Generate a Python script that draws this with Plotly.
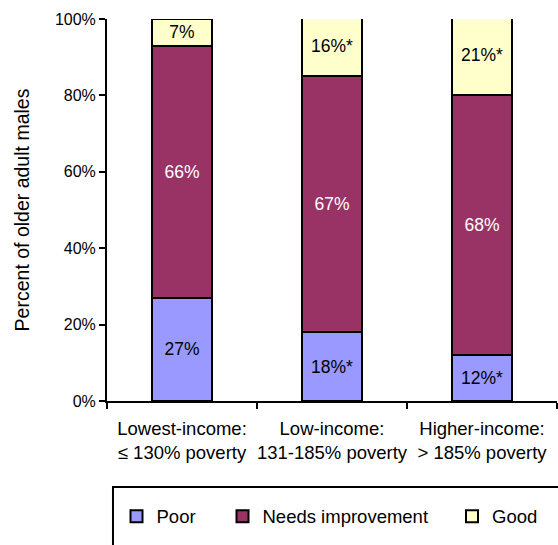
import plotly.graph_objects as go

# Income groups (two-line axis labels)
categories = [
    "Lowest-income:<br>\u2264 130% poverty",
    "Low-income:<br>131-185% poverty",
    "Higher-income:<br>> 185% poverty",
]

# Diet quality shares, percent of older adult males
poor = [27, 18, 12]
needs_improvement = [66, 67, 68]
good = [7, 16, 21]

# Significance markers shown next to the values
poor_marks = ["", "*", "*"]
needs_marks = ["", "", ""]
good_marks = ["", "*", "*"]

# Y-axis ticks
y_ticks = [0, 20, 40, 60, 80, 100]
y_tick_labels = [f"{t}%" for t in y_ticks]

series = [
    ("Poor", poor, poor_marks, "#9999FF", "black", "legend"),
    ("Needs improvement", needs_improvement, needs_marks, "#993366", "white", "legend2"),
    ("Good", good, good_marks, "#FFFFCC", "black", "legend3"),
]

FONT = "Liberation Sans, Arial, sans-serif"

fig = go.Figure()
for name, vals, marks, color, tcolor, leg in series:
    fig.add_trace(go.Bar(
        name=name,
        x=categories,
        y=vals,
        text=[f"{v}%{m}" for v, m in zip(vals, marks)],
        textposition="inside",
        insidetextanchor="middle",
        textangle=0,
        constraintext="none",
        textfont=dict(family=FONT, size=17.5, color=tcolor),
        marker=dict(color=color, line=dict(color="black", width=2)),
        width=0.4,
        legend=leg,
        hoverinfo="skip",
    ))

legend_common = dict(
    orientation="h",
    xref="paper", yref="paper",
    yanchor="middle", y=-0.303,
    xanchor="left",
    bgcolor="rgba(0,0,0,0)",
    borderwidth=0,
    font=dict(family=FONT, size=18.5, color="black"),
    itemwidth=30,
)

fig.update_layout(
    width=558, height=545,
    margin=dict(l=107, r=1, t=19, b=144),
    paper_bgcolor="white",
    plot_bgcolor="white",
    barmode="stack",
    showlegend=True,
    font=dict(family=FONT, color="black"),
    legend=dict(legend_common, x=0.03 - 4 / 450),
    legend2=dict(legend_common, x=0.27 - 6 / 450),
    legend3=dict(legend_common, x=0.78 - 6 / 450),
    xaxis=dict(
        type="category",
        range=[-0.5, 2.5],
        automargin=False,
        showline=True, linecolor="black", linewidth=2,
        ticks="outside", tickson="boundaries", ticklen=6,
        tickwidth=2, tickcolor="black",
        tickangle=0,
        ticklabelstandoff=10,
        tickfont=dict(family=FONT, size=18.5, color="black"),
        showgrid=False, zeroline=False,
    ),
    yaxis=dict(
        range=[0, 100],
        tickmode="array",
        tickvals=y_ticks,
        ticktext=y_tick_labels,
        showline=True, linecolor="black", linewidth=2,
        ticks="outside", ticklen=6, tickwidth=2, tickcolor="black",
        tickfont=dict(family=FONT, size=16, color="black"),
        showgrid=False, zeroline=False,
        title=dict(text="Percent of older adult males",
                   font=dict(family=FONT, size=19.5, color="black"),
                   standoff=20),
    ),
    shapes=[dict(
        type="rect", xref="paper", yref="paper",
        x0=0.0133, x1=1.2, y0=-0.225, y1=-0.6,
        line=dict(color="black", width=2),
        fillcolor="rgba(0,0,0,0)",
        layer="below",
    )],
)

fig.write_html("out.html")
